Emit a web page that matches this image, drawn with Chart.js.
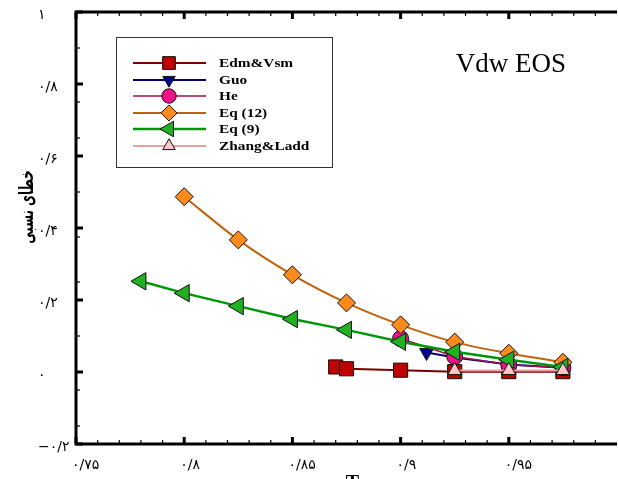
<!DOCTYPE html>
<html>
<head>
<meta charset="utf-8">
<script src="https://cdn.jsdelivr.net/npm/chart.js@4.4.1/dist/chart.umd.min.js"></script>
<style>
  html, body { margin: 0; padding: 0; background: #fff; overflow: hidden; }
  #wrap { position: absolute; left: 0; top: 0; width: 628px; height: 479px; }
</style>
</head>
<body>
<div id="wrap"><canvas id="c" width="628" height="479"></canvas></div>
<script>
// Relative error vs. reduced temperature, van der Waals equation of state
const edmX   = [0.87, 0.875, 0.9, 0.925, 0.95, 0.975];
const edmY   = [0.014, 0.009, 0.005, 0.001, 0.001, 0.001];
const guoX   = [0.912, 0.925, 0.95, 0.975];
const guoY   = [0.054, 0.040, 0.021, 0.012];
const heX    = [0.9, 0.925, 0.95, 0.975];
const heY    = [0.093, 0.043, 0.020, 0.012];
const eq12X  = [0.8, 0.825, 0.85, 0.875, 0.9, 0.925, 0.95, 0.975];
const eq12Y  = [0.487, 0.367, 0.270, 0.192, 0.131, 0.083, 0.052, 0.027];
const eq9X   = [0.78, 0.8, 0.825, 0.85, 0.875, 0.9, 0.925, 0.95, 0.975];
const eq9Y   = [0.252, 0.219, 0.183, 0.147, 0.117, 0.084, 0.056, 0.034, 0.014];
const zhangX = [0.925, 0.95, 0.975];
const zhangY = [0.004, 0.004, 0.004];

const seriesNames = ['Edm&Vsm', 'Guo', 'He', 'Eq (12)', 'Eq (9)', 'Zhang&Ladd'];

// axis ticks and their Persian labels
const xMajor = [0.75, 0.8, 0.85, 0.9, 0.95];
const xLabels = ['۰/۷۵', '۰/۸', '۰/۸۵', '۰/۹', '۰/۹۵'];
const yMajor = [-0.2, 0, 0.2, 0.4, 0.6, 0.8, 1.0];
const yLabels = ['−۰/۲', '۰', '۰/۲', '۰/۴', '۰/۶', '۰/۸', '۱'];
const xMinor = [0.76, 0.77, 0.78, 0.79, 0.81, 0.82, 0.83, 0.84, 0.86, 0.87, 0.88, 0.89,
                0.91, 0.92, 0.93, 0.94, 0.96, 0.97, 0.98, 0.99];
const yMinor = [0.9, 0.75, 0.65, 0.5, 0.375, 0.25, 0.1, -0.05, -0.15];

const yTitle = 'خطای نسبی';
const xTitle = 'Tr';
const plotTitle = 'Vdw EOS';

const pts = (xs, ys) => xs.map((x, i) => ({ x: x, y: ys[i] }));

const styles = [
  { line: '#7a0000', fill: '#c00000', shape: 'rect',     rot: 0,   r: 10, lw: 2 },
  { line: '#000070', fill: '#000090', shape: 'triangle', rot: 180, r: 8,  lw: 2 },
  { line: '#a0104a', fill: '#f0108a', shape: 'circle',   rot: 0,   r: 8,  lw: 1.5 },
  { line: '#c0640a', fill: '#ff8a1c', shape: 'rectRot',  rot: 0,   r: 9,  lw: 2 },
  { line: '#00960a', fill: '#20b020', shape: 'triangle', rot: 270, r: 10, lw: 2.5 },
  { line: '#eaa0a0', fill: '#ffc4c4', shape: 'triangle', rot: 0,   r: 8,  lw: 2 }
];
const allData = [pts(edmX, edmY), pts(guoX, guoY), pts(heX, heY),
                 pts(eq12X, eq12Y), pts(eq9X, eq9Y), pts(zhangX, zhangY)];

const datasets = allData.map((d, i) => ({
  label: seriesNames[i],
  data: d,
  order: 6 - i,
  borderColor: styles[i].line,
  borderWidth: styles[i].lw,
  backgroundColor: styles[i].fill,
  pointStyle: styles[i].shape,
  pointRotation: styles[i].rot,
  pointRadius: styles[i].r,
  pointBackgroundColor: styles[i].fill,
  pointBorderColor: '#111',
  pointBorderWidth: 1,
  tension: i === 3 ? 0.35 : 0,
  cubicInterpolationMode: i === 3 ? 'monotone' : 'default',
  clip: false
}));

// frame, inward tick marks, titles and the boxed legend
const decor = {
  id: 'decor',
  afterDatasetsDraw(chart) {
    const ctx = chart.ctx;
    const xs = chart.scales.x, ys = chart.scales.y;
    const a = chart.chartArea;
    ctx.save();
    ctx.strokeStyle = '#000';
    ctx.lineCap = 'butt';
    // frame
    ctx.lineWidth = 3;
    ctx.beginPath();
    ctx.moveTo(a.left, a.bottom); ctx.lineTo(a.left, a.top); ctx.lineTo(a.right, a.top);
    ctx.moveTo(a.left - 1.5, a.bottom); ctx.lineTo(a.right, a.bottom);
    ctx.stroke();
    // ticks pointing inward
    const tick = (x1, y1, x2, y2, w) => {
      ctx.lineWidth = w; ctx.beginPath(); ctx.moveTo(x1, y1); ctx.lineTo(x2, y2); ctx.stroke();
    };
    xMajor.forEach(v => { const p = xs.getPixelForValue(v);
      tick(p, a.bottom, p, a.bottom - 7, 3); tick(p, a.top, p, a.top + 7, 3); });
    xMinor.forEach(v => { const p = xs.getPixelForValue(v);
      tick(p, a.bottom, p, a.bottom - 4, 1.2); tick(p, a.top, p, a.top + 4, 1.2); });
    yMajor.forEach(v => { const p = ys.getPixelForValue(v);
      tick(a.left, p, a.left + 7, p, 3); });
    yMinor.forEach(v => { const p = ys.getPixelForValue(v);
      tick(a.left, p, a.left + 4, p, 1.2); });

    // plot title
    ctx.fillStyle = '#000';
    ctx.font = '27px "Liberation Serif"';
    ctx.textAlign = 'center';
    ctx.textBaseline = 'alphabetic';
    ctx.fillText(plotTitle, 511, 72);

    // y title, rotated
    ctx.save();
    ctx.translate(28, 207);
    ctx.rotate(-Math.PI / 2);
    ctx.scale(0.92, 1.5);
    ctx.font = 'bold 13px "DejaVu Sans"';
    ctx.textAlign = 'center';
    ctx.textBaseline = 'middle';
    ctx.fillText(yTitle, 0, 0);
    ctx.restore();

    // x title (mostly below the visible area)
    ctx.font = 'bold 20px "Liberation Serif"';
    ctx.textAlign = 'center';
    ctx.textBaseline = 'top';
    ctx.fillText(xTitle, 356, 474);

    // legend box
    ctx.lineWidth = 1;
    ctx.strokeStyle = '#333';
    ctx.strokeRect(116.5, 37.5, 216, 130);
    const rows = [63, 80, 96, 113, 129, 146];
    chart.data.datasets.forEach((ds, i) => {
      const y = rows[i];
      ctx.strokeStyle = styles[i].line;
      ctx.lineWidth = styles[i].lw;
      ctx.beginPath(); ctx.moveTo(133, y); ctx.lineTo(206, y); ctx.stroke();
      const opts = {
        pointStyle: styles[i].shape, rotation: styles[i].rot,
        radius: styles[i].r * 0.9, borderWidth: 1
      };
      ctx.fillStyle = styles[i].fill;
      ctx.strokeStyle = '#111';
      ctx.lineWidth = 1;
      Chart.helpers.drawPoint(ctx, opts, 169, y);
      ctx.fillStyle = '#000';
      ctx.font = 'bold 13px "Liberation Serif"';
      ctx.textAlign = 'left';
      ctx.textBaseline = 'middle';
      ctx.save();
      ctx.translate(219, y);
      ctx.scale(1.18, 1);
      ctx.fillText(ds.label, 0, 1);
      ctx.restore();
    });
    ctx.restore();
  }
};

new Chart(document.getElementById('c'), {
  type: 'line',
  data: { datasets: datasets },
  options: {
    responsive: false,
    animation: false,
    events: [],
    layout: { padding: { left: 38, top: 12, right: 2, bottom: 0 } },
    plugins: { legend: { display: false }, tooltip: { enabled: false } },
    scales: {
      x: {
        type: 'linear', position: 'bottom', min: 0.75, max: 1.0,
        grid: { display: false, drawTicks: false },
        border: { display: false },
        afterBuildTicks: s => { s.ticks = xMajor.map(v => ({ value: v })); },
        afterFit: s => { s.height = 35; s.paddingLeft = 0; s.paddingRight = 0; },
        ticks: {
          align: 'start', padding: 13, labelOffset: -4, color: '#000',
          font: { family: 'DejaVu Sans', size: 14 },
          autoSkip: false, maxRotation: 0,
          callback: (v) => { const k = xMajor.findIndex(t => Math.abs(t - v) < 1e-6); return k >= 0 ? xLabels[k] : ''; }
        }
      },
      y: {
        type: 'linear', min: -0.2, max: 1.0,
        grid: { display: false, drawTicks: false },
        border: { display: false },
        afterBuildTicks: s => { s.ticks = yMajor.map(v => ({ value: v })); },
        afterFit: s => { s.width = 38; s.paddingTop = 0; s.paddingBottom = 0; },
        ticks: {
          crossAlign: 'far', padding: 8, labelOffset: 3, color: '#000',
          font: { family: 'DejaVu Sans', size: 14 },
          autoSkip: false,
          callback: (v) => { const k = yMajor.findIndex(t => Math.abs(t - v) < 1e-6); return k >= 0 ? yLabels[k] : ''; }
        }
      }
    }
  },
  plugins: [decor]
});
</script>
</body>
</html>
